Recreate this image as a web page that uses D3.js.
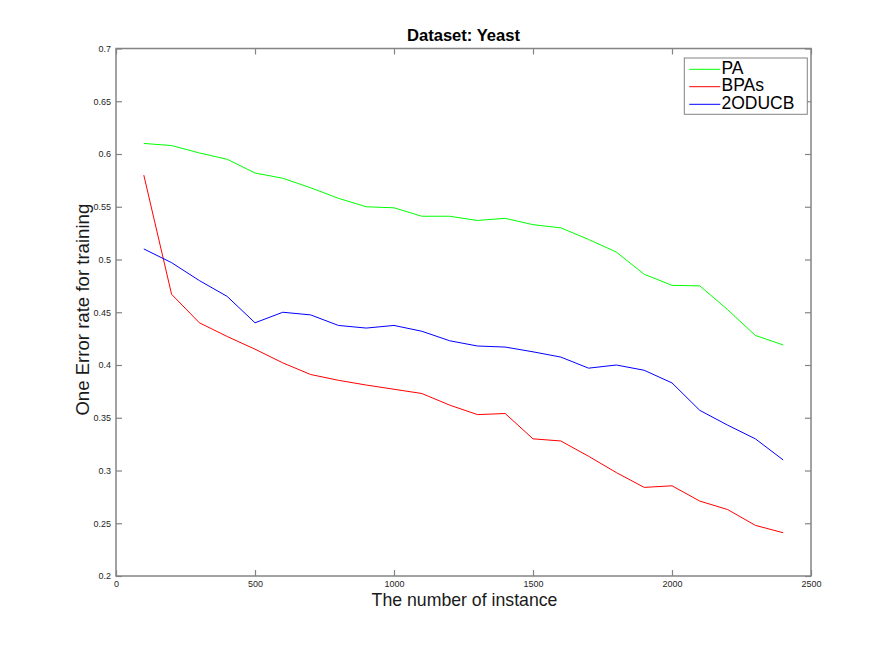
<!DOCTYPE html>
<html><head><meta charset="utf-8">
<script src="https://cdn.jsdelivr.net/npm/d3@7"></script>
<style>body{margin:0;background:#fff}svg{display:block;font-family:"Liberation Sans",Arial,sans-serif}</style>
</head><body><svg id="c" width="896" height="648"></svg>
<script>
const instances = [100,200,300,400,500,600,700,800,900,1000,1100,1200,1300,1400,1500,1600,1700,1800,1900,2000,2100,2200,2300,2400];
const paValues = [0.610,0.608,0.601,0.595,0.582,0.577,0.568,0.558,0.550,0.549,0.541,0.541,0.537,0.539,0.533,0.530,0.519,0.507,0.486,0.4755,0.475,0.4525,0.428,0.419];
const bpasValues = [0.580,0.467,0.440,0.427,0.415,0.402,0.391,0.3855,0.381,0.377,0.373,0.362,0.353,0.354,0.330,0.328,0.3135,0.298,0.284,0.2855,0.271,0.263,0.248,0.241];
const oducbValues = [0.510,0.497,0.480,0.465,0.440,0.450,0.4475,0.4375,0.435,0.4375,0.432,0.423,0.418,0.417,0.4125,0.4075,0.397,0.400,0.395,0.383,0.357,0.343,0.330,0.310];
const xTicks = [0,500,1000,1500,2000,2500];
const yTicks = [0.2,0.25,0.3,0.35,0.4,0.45,0.5,0.55,0.6,0.65,0.7];
const seriesNames = ["PA","BPAs","2ODUCB"];
const seriesColors = ["#00ff00","#ff0000","#0000ff"];
const seriesData = [paValues,bpasValues,oducbValues];

const svg = d3.select("#c");
const L=116, R=811, T=48.5, B=576;
const x = d3.scaleLinear().domain([0,2500]).range([L,R]);
const y = d3.scaleLinear().domain([0.2,0.7]).range([B,T]);
const axisCol="#848484", txtCol="#262626";

svg.append("rect").attr("x",L).attr("y",T).attr("width",R-L).attr("height",B-T)
  .attr("fill","none").attr("stroke",axisCol).attr("stroke-width",1.5);

function styleAxis(g){ g.select(".domain").remove(); g.selectAll(".tick line").attr("stroke",axisCol).attr("stroke-width",1.2);
  g.selectAll(".tick text").attr("fill",txtCol).attr("font-size",9).attr("font-family","Liberation Sans, Arial, sans-serif"); }

const fmt = d=>String(+d.toFixed(2));
svg.append("g").attr("transform",`translate(0,${B})`)
  .call(d3.axisBottom(x).tickValues(xTicks).tickSize(-6).tickPadding(4.5).tickFormat(d3.format("d")))
  .call(styleAxis);
svg.append("g").attr("transform",`translate(0,${T})`)
  .call(d3.axisTop(x).tickValues(xTicks).tickSize(-6).tickFormat(""))
  .call(styleAxis);
svg.append("g").attr("transform",`translate(${L},0)`)
  .call(d3.axisLeft(y).tickValues(yTicks).tickSize(-6).tickPadding(5).tickFormat(fmt))
  .call(styleAxis);
svg.append("g").attr("transform",`translate(${R},0)`)
  .call(d3.axisRight(y).tickValues(yTicks).tickSize(-6).tickFormat(""))
  .call(styleAxis);

const line = d3.line().x((d,i)=>x(instances[i])).y(d=>y(d));
seriesData.forEach((vals,k)=>{
  svg.append("path").datum(vals).attr("d",line).attr("fill","none")
    .attr("stroke",seriesColors[k]).attr("stroke-width",1);
});

svg.append("text").attr("x",463.5).attr("y",41).attr("text-anchor","middle")
  .attr("font-size",16.6).attr("font-weight","bold").attr("fill","#000").text("Dataset: Yeast");
svg.append("text").attr("x",464.5).attr("y",605.5).attr("text-anchor","middle")
  .attr("font-size",17.7).attr("fill","#1a1a1a").text("The number of instance");
svg.append("text").attr("transform","translate(88.5,309.7) rotate(-90)").attr("text-anchor","middle")
  .attr("font-size",18.6).attr("fill","#1a1a1a").text("One Error rate for training");

const lg = svg.append("g");
lg.append("rect").attr("x",684.3).attr("y",58).attr("width",123).attr("height",56.3)
  .attr("fill","#fff").attr("stroke",axisCol).attr("stroke-width",1);
const lineYs = [69.3,86.7,104.3];
seriesNames.forEach((n,k)=>{
  const yy = lineYs[k];
  lg.append("line").attr("x1",689.3).attr("x2",720.3).attr("y1",yy).attr("y2",yy)
    .attr("stroke",seriesColors[k]).attr("stroke-width",1);
  lg.append("text").attr("x",721.5).attr("y",yy+4.2).attr("font-size",17.5).attr("fill","#000").text(n);
});
</script></body></html>
